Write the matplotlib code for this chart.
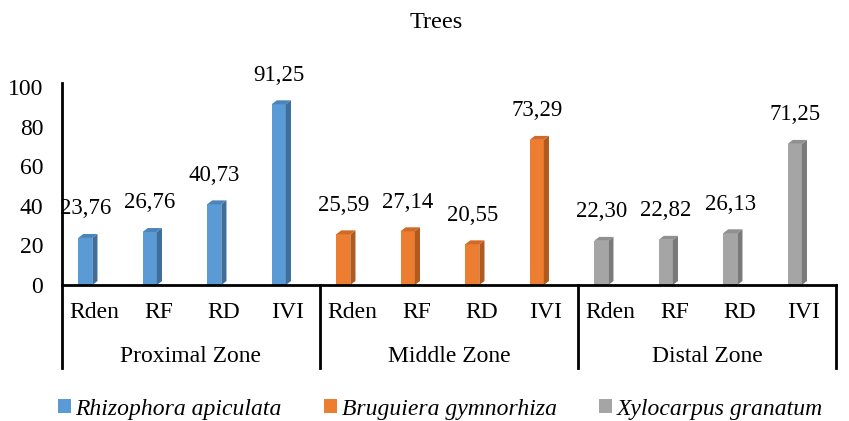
import matplotlib
matplotlib.use("Agg")
import matplotlib.pyplot as plt
from matplotlib.patches import Polygon, Patch
import matplotlib.transforms as mtransforms
import numpy as np

plt.rcParams['font.family'] = ['Liberation Serif', 'DejaVu Serif']

title = "Trees"
zones = ["Proximal Zone", "Middle Zone", "Distal Zone"]
indices = ["Rden", "RF", "RD", "IVI"]
species = ["Rhizophora apiculata", "Bruguiera gymnorhiza", "Xylocarpus granatum"]
proximal = [23.76, 26.76, 40.73, 91.25]
middle = [25.59, 27.14, 20.55, 73.29]
distal = [22.30, 22.82, 26.13, 71.25]
yticks = [0, 20, 40, 60, 80, 100]

front_colors = ["#5B9BD5", "#ED7D31", "#A5A5A5"]
side_colors = ["#3E6E99", "#B05A1F", "#7A7A7A"]
top_colors = ["#4A84BA", "#D06A26", "#909090"]

W, H = 849, 421
x0, x1 = 62, 836
y0, ytop = 285, 83
fig = plt.figure(figsize=(W / 100, H / 100), dpi=100)
ax = fig.add_axes([x0 / W, (H - y0) / H, (x1 - x0) / W, (y0 - ytop) / H])
ax.set_xlim(0, 12)
ax.set_ylim(0, 102)

bw = 0.22
shift = -0.14
dx, dy = 0.08, 2.0
series = [proximal, middle, distal]
FS = 17
for g, vals in enumerate(series):
    xs = np.arange(4) + g * 4 + 0.5 + shift
    ax.bar(xs, vals, width=bw, color=front_colors[g], edgecolor='none', zorder=3)
    for x, v in zip(xs, vals):
        r = x + bw / 2
        l = x - bw / 2
        ax.add_patch(Polygon([(r, 0), (r + dx, dy), (r + dx, v + dy), (r, v)],
                             closed=True, facecolor=side_colors[g], edgecolor='none', zorder=3))
        ax.add_patch(Polygon([(l, v), (l + dx, v + dy), (r + dx, v + dy), (r, v)],
                             closed=True, facecolor=top_colors[g], edgecolor='none', zorder=3))
        ax.annotate(f"{v:.2f}".replace('.', ','), (x, v), xytext=(0, 21),
                    textcoords='offset points', ha='center', va='center', fontsize=16.5)

ax.set_yticks(yticks)
ax.set_yticklabels([str(t) for t in yticks], fontsize=FS)
ax.tick_params(axis='y', length=0, pad=13.5)
ax.set_xticks([])
for s in ['top', 'right', 'bottom']:
    ax.spines[s].set_visible(False)
ax.spines['left'].set_linewidth(2)
ax.spines['left'].set_color('black')

ph = y0 - ytop
trans = mtransforms.blended_transform_factory(ax.transData, ax.transAxes)
ax.plot([0, 12], [0, 0], transform=trans, color='black', lw=2, clip_on=False, zorder=4)
bottom = -(368 - y0) / ph
for xb in [0, 4, 8, 12]:
    ax.plot([xb, xb], [0, bottom], transform=trans, color='black', lw=2, clip_on=False)
for i in range(12):
    ax.text(i + 0.5, -(312 - y0) / ph, indices[i % 4], transform=trans,
            ha='center', va='center', fontsize=FS)
for g in range(3):
    ax.text(g * 4 + 2, -(356 - y0) / ph, zones[g], transform=trans,
            ha='center', va='center', fontsize=FS)

fig.text(436 / W, 1 - 22 / H, title, ha='center', va='center', fontsize=17.5)

handles = [Patch(facecolor=c, edgecolor='none') for c in front_colors]
fig.legend(handles, species, loc='center', bbox_to_anchor=(440.5 / W, 1 - 409 / H),
           ncol=3, frameon=False, prop={'style': 'italic', 'size': FS},
           handlelength=0.55, handleheight=0.55, handletextpad=0.2, columnspacing=1.8,
           borderpad=0, borderaxespad=0)

fig.savefig("out.png", dpi=100)
